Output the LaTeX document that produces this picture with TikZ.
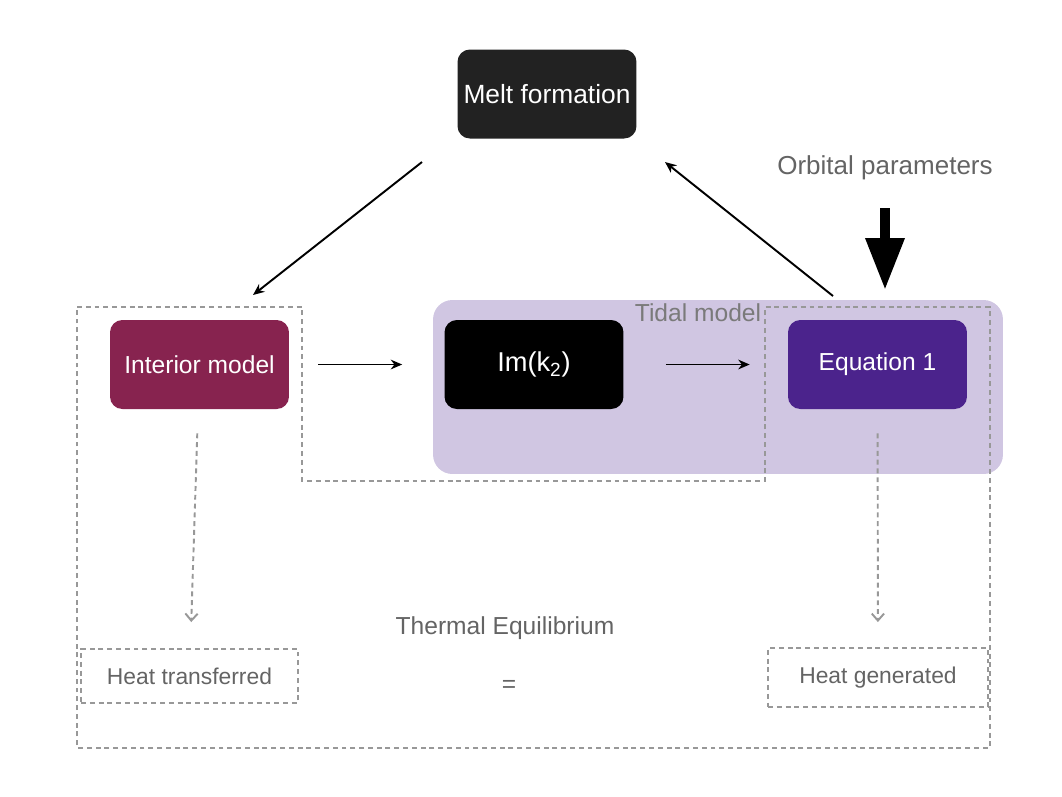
\documentclass[tikz,border=0pt]{standalone}
\usepackage{fontspec}
\setmainfont{Liberation Sans}
\usetikzlibrary{positioning,arrows.meta}
\definecolor{meltgray}{HTML}{222222}
\definecolor{intred}{HTML}{87234F}
\definecolor{eqpurple}{HTML}{4B238C}
\definecolor{tidalbg}{HTML}{D0C6E2}
\definecolor{textgray}{HTML}{646464}
\definecolor{dashgray}{HTML}{989898}

\begin{document}
\begin{tikzpicture}[x=0.02cm, y=-0.02cm, >={Stealth[length=6.5pt,width=5.5pt]},
    every node/.style={font=\fontsize{14}{16}\selectfont},
    block/.style={rounded corners=7pt, minimum width=3.58cm, minimum height=1.78cm, text=white},
    dashline/.style={dashgray, line width=1.1pt, dash pattern=on 2.8pt off 2.2pt},
    heatbox/.style={dashline, draw, text=textgray, font=\fontsize{13}{15}\selectfont},
    flow/.style={->, line width=1.1pt},
    drop/.style={dashline, -{Straight Barb[length=4pt,width=7pt]}}]
        \useasboundingbox (0,0) rectangle (1062,796);
        % tidal model background
        \node[fill=tidalbg, rounded corners=11pt, minimum width=11.4cm, minimum height=3.48cm] (tidal) at (718,387) {};
        \node[text=black!52] (tidallabel) at (698,313) {Tidal model};
        % thermal equilibrium outline
        \draw[dashline] (77,307) -- (302,307) -- (302,481) -- (765,481) -- (765,307)
            -- (990,307) -- (990,748) -- (77,748) -- cycle;
        \node[block, fill=meltgray, font=\fontsize{15}{18}\selectfont] (melt) at (547,94) {Melt formation};
        \node[block, fill=intred] (interior) at (199.5,364.5) {Interior model};
        \node[block, fill=black, font=\fontsize{15.5}{18}\selectfont] (imk) at (534,364.5) {Im(k\textsubscript{2})};
        \node[block, fill=eqpurple] (eqn) at (877.5,364.5) {Equation 1};
        \node[heatbox, minimum width=4.34cm, minimum height=1.08cm] (transf) at (189.5,676) {Heat transferred};
        \node[heatbox, minimum width=4.4cm, minimum height=1.18cm] (gener) at (878,677.5) {Heat generated};
        \node[text=textgray] (thermal) at (505,628) {Thermal Equilibrium};
        \node[text=textgray] (equals) at (509,686) {=};
        \node[text=textgray, font=\fontsize{14.8}{17}\selectfont] (orbit) at (885,168) {Orbital parameters};
        \coordinate (meltout) at (422,162);
        \coordinate (intin) at (253,295);
        \coordinate (eqout) at (833,296);
        \coordinate (meltin) at (665,162);
        \coordinate (pushtop) at (885,208);
        \coordinate (pushtip) at (885,290);
        \draw[flow] (meltout) -- (intin);
        \draw[flow] (eqout) -- (meltin);
        \draw[flow, shorten <=0.58cm, shorten >=0.84cm] (interior) -- (imk);
        \draw[flow, shorten <=0.84cm, shorten >=0.76cm] (imk) -- (eqn);
        \draw[drop, shorten <=0.48cm, shorten >=0.52cm] (interior) -- (transf);
        \draw[drop, shorten <=0.48cm, shorten >=0.5cm] (eqn) -- (gener);
        \draw[line width=5.7pt, -{Triangle[length=29.6pt,width=21pt]}] (pushtop) -- (pushtip);
      \end{tikzpicture}
\end{document}
